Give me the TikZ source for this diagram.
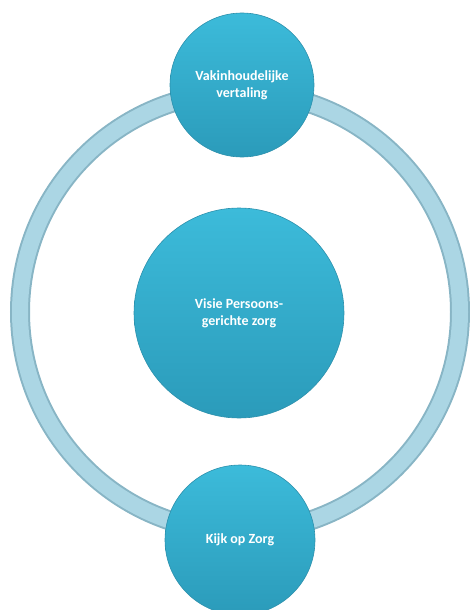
\documentclass[tikz,border=0pt]{standalone}
\usepackage{fontspec}
\setmainfont{Carlito}
\definecolor{ringdark}{HTML}{88B5C5}
\definecolor{ringlight}{HTML}{ABD6E4}
\definecolor{ctop}{HTML}{3CBBDA}
\definecolor{cbot}{HTML}{2B9BBA}
\definecolor{crim}{HTML}{2C90AC}
\begin{document}
\begin{tikzpicture}[x=1pt,y=-1pt,
  bubble/.style={circle, draw=crim, line width=0.6pt, top color=ctop, bottom color=cbot,
    text=white, font=\bfseries\fontsize{14}{17}\selectfont, align=center, inner sep=0pt}]
\useasboundingbox (0,0) rectangle (470,610);
\coordinate (ringc) at (240,312);
\draw[ringdark, line width=20pt] (ringc) circle[radius=220];
\draw[ringlight, line width=16pt] (ringc) circle[radius=220];
\node[bubble, minimum size=144pt] (top) at (242,85) {Vakinhoudelijke\\vertaling};
\node[bubble, minimum size=210pt] (mid) at (239,313) {Visie Persoons-\\gerichte zorg};
\node[bubble, minimum size=150pt] (bot) at (240,540) {Kijk op Zorg};
\end{tikzpicture}
\end{document}
